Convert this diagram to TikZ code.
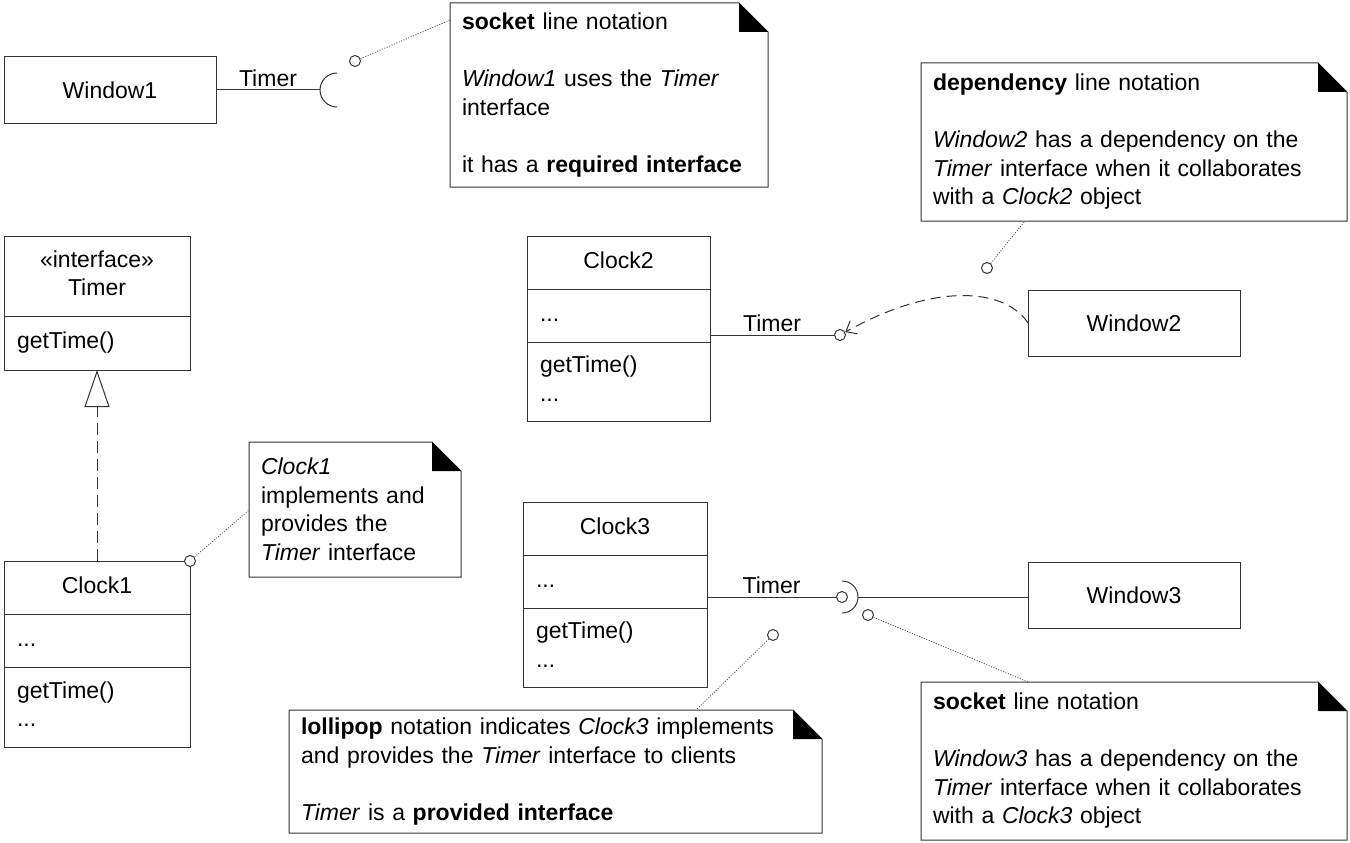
\documentclass[tikz,border=0pt]{standalone}
\usepackage{fontspec}
\setmainfont{Liberation Sans}
\usetikzlibrary{arrows.meta,calc,positioning}

\begin{document}
\begin{tikzpicture}[x=1pt,y=-1pt,
	font=\fontsize{23}{28.5}\selectfont,
	line width=1pt,
	ink/.style={draw=black!80},
	window/.style={ink, minimum width=212pt, minimum height=66pt, inner sep=0pt, outer sep=0pt, anchor=north west},
	cls/.style={ink, inner xsep=13pt, inner ysep=0pt, outer sep=0pt, minimum height=53pt, align=left},
	clsname/.style={cls, align=center},
	note/.style={inner xsep=12pt, inner ysep=0pt, outer sep=0pt, align=left, anchor=north west},
	dot/.style={circle, ink, fill=white, minimum size=11pt, inner sep=0pt},
	lbl/.style={inner sep=3pt},
	noteline/.style={draw=black!70, line width=0.8pt, dash pattern=on 1pt off 1.6pt},
	dep/.style={dash pattern=on 10pt off 6pt, -{Straight Barb[length=9pt, width=15pt]}},
	real/.style={dash pattern=on 12pt off 6pt, -{Triangle[open, length=37pt, width=25pt, fill=white]}}]

							\useasboundingbox (0,0) rectangle (1350,843);

							\node[window] (w1) at (4,57) {Window1};
							\node[window] (w2) at (1028,290) {Window2};
							\node[window] (w3) at (1028,562) {Window3};

							\node[clsname, text width=160pt, minimum height=80pt, anchor=north west] (tname) at (4,236) {\strut«interface»\\Timer\strut};
							\node[cls, text width=160pt, minimum height=54pt, below=0pt of tname] (tops) {\strut getTime()};

							\node[clsname, text width=160pt, anchor=north west] (c1name) at (4,561) {\strut Clock1};
							\node[cls, text width=160pt, below=0pt of c1name] (c1attr) {\strut...};
							\node[cls, text width=160pt, minimum height=80pt, below=0pt of c1attr] (c1ops) {\strut getTime()\\...\strut};

							\node[clsname, text width=157pt, anchor=north west] (c2name) at (527,236) {\strut Clock2};
							\node[cls, text width=157pt, below=0pt of c2name] (c2attr) {\strut...};
							\node[cls, text width=157pt, minimum height=79pt, below=0pt of c2attr] (c2ops) {\strut getTime()\\...\strut};

							\node[clsname, text width=158pt, anchor=north west] (c3name) at (523,502) {\strut Clock3};
							\node[cls, text width=158pt, below=0pt of c3name] (c3attr) {\strut...};
							\node[cls, text width=158pt, minimum height=79pt, below=0pt of c3attr] (c3ops) {\strut getTime()\\...\strut};

							\node[note, text width=294pt, minimum height=184pt] (n1) at (450,3) {\textbf{socket} line notation\\[28.5pt]\textit{Window1} uses the \textit{Timer}\\interface\\[28.5pt]it has a \textbf{required interface}};
							\node[note, text width=402pt, minimum height=158pt] (n2) at (921,63) {\textbf{dependency} line notation\\[28.5pt]\textit{Window2} has a dependency on the\\\textit{Timer} interface when it collaborates\\with a \textit{Clock2} object};
							\node[note, text width=188pt, minimum height=135pt] (n3) at (249,442) {\textit{Clock1}\\implements and\\provides the\\\textit{Timer} interface};
							\node[note, text width=509pt, minimum height=123pt] (n4) at (289,710) {\textbf{lollipop} notation indicates \textit{Clock3} implements\\and provides the \textit{Timer} interface to clients\\[28.5pt]\textit{Timer} is a \textbf{provided interface}};
							\node[note, text width=402pt, minimum height=158pt] (n5) at (921,682) {\textbf{socket} line notation\\[28.5pt]\textit{Window3} has a dependency on the\\\textit{Timer} interface when it collaborates\\with a \textit{Clock3} object};

							\foreach \n in {n1,n2,n3,n4,n5} {
								\draw[ink] (\n.north west) -- ([xshift=-29pt]\n.north east) -- ([yshift=-29pt]\n.north east) -- (\n.south east) -- (\n.south west) -- cycle;
								\fill[black] ([xshift=-29pt]\n.north east) -- ([xshift=-29pt,yshift=-29pt]\n.north east) -- ([yshift=-29pt]\n.north east) -- cycle;
							}

							\draw[ink, real] (c1name) -- (tops);

							\coordinate (s1) at (320,90);
							\draw[ink] (w1) -- node[above, lbl] {Timer} (s1);
							\draw[ink] ([shift={(17,-17)}]s1) arc[start angle=270, end angle=90, radius=17];

							\node[dot] (lp2) at (840,335) {};
							\draw[ink] (c2attr.east |- lp2) -- node[above, lbl] {Timer} (lp2);
							\draw[ink, dep] (w2.west) .. controls (1005,288) and (935,282) .. (lp2);

							\node[dot] (lp3) at (842,597) {};
							\draw[ink] (c3attr.east |- lp3) -- node[above, lbl] {Timer} (lp3);
							\draw[ink] ([shift={(0,-16)}]lp3.center) arc[start angle=-90, end angle=90, radius=16];
							\coordinate (s3) at ([xshift=16pt]lp3.center);
							\draw[ink] (s3) -- (s3 -| w3.west);

							\node[dot] (d1) at (355,61) {};
							\node[dot] (d2) at (987,268) {};
							\node[dot] (d3) at (c1name.north east) {};
							\node[dot] (d4) at (773,635) {};
							\node[dot] (d5) at (868,615) {};

							\draw[noteline] (d1) -- ([yshift=-17pt]n1.north west);
							\draw[noteline] (d2) -- ([xshift=104pt]n2.south west);
							\draw[noteline] (d3) -- ([yshift=-68pt]n3.north west);
							\draw[noteline] (d4) -- ([xshift=407pt]n4.north west);
							\draw[noteline] (d5) -- ([xshift=107pt]n5.north west);
\end{tikzpicture}
\end{document}
